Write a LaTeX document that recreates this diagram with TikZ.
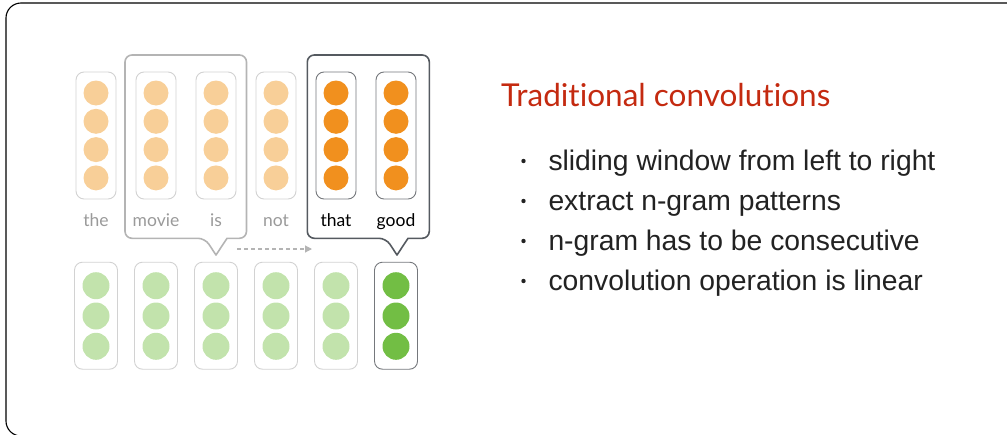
\documentclass[tikz,border=0pt]{standalone}
\usepackage{fontspec}
\setmainfont{Liberation Sans}
\newfontfamily\humanist[Ligatures=NoCommon]{Lato}
\usetikzlibrary{arrows.meta}

\definecolor{peachlight}{HTML}{F8CF98}
\definecolor{peachdark}{HTML}{F1901E}
\definecolor{leaflight}{HTML}{C2E3AC}
\definecolor{leafdark}{HTML}{72BE44}
\definecolor{boxlight}{HTML}{D2D2D2}
\definecolor{boxdark}{HTML}{75787C}
\definecolor{winlight}{HTML}{B4B4B4}
\definecolor{windark}{HTML}{555A60}
\definecolor{titlered}{HTML}{C42A10}
\definecolor{labelgray}{HTML}{9A9A9A}
\definecolor{bodytext}{HTML}{222222}

\tikzset{
  frame/.style={draw=black, line width=1.1pt, rounded corners=15pt},
  vecbox/.style={draw=#1, line width=0.9pt, rectangle, rounded corners=8pt, inner sep=0pt},
  topbox/.style={vecbox=#1, minimum width=40pt, minimum height=127pt},
  lowbox/.style={vecbox=#1, minimum width=43pt, minimum height=107pt},
  topdot/.style={circle, inner sep=0pt, minimum size=25pt, fill=#1},
  lowdot/.style={circle, inner sep=0pt, minimum size=27pt, fill=#1},
  wordlabel/.style={anchor=base, inner sep=0pt, font=\humanist\fontsize{17.5}{20}\selectfont, text=#1},
  window/.style={draw=#1, line width=1.6pt, line join=round},
  slide/.style={draw=winlight, line width=1.1pt, dash pattern=on 4pt off 3pt,
    -{Triangle[length=7pt,width=7pt,fill=winlight]}},
  bullettext/.style={anchor=base west, inner sep=0pt, text=bodytext,
    font=\fontsize{28.3}{32}\selectfont},
  bulletdot/.style={circle, inner sep=0pt, minimum size=4.4pt, fill=bodytext},
}

\begin{document}
\begin{tikzpicture}[x=1pt, y=-1pt]
\useasboundingbox (0,0) rectangle (1007,434);

% slide frame, partly outside the page
\begin{scope}
  \clip (0,0) rectangle (1007,434);
  \draw[frame] (6,3) rectangle (1040,436);
\end{scope}

% sliding windows with pointers
\coordinate (wa-tl) at (125,55);
\coordinate (wa-br) at (246.5,238.3);
\coordinate (wa-tip) at (216,255);
\draw[window=winlight]
  ([xshift=11pt]wa-tip |- wa-br) [rounded corners=7pt] -- (wa-br)
  -- (wa-br |- wa-tl) -- (wa-tl) -- (wa-tl |- wa-br)
  -- ([xshift=-11pt]wa-tip |- wa-br) [sharp corners] -- (wa-tip) -- cycle;

\coordinate (wb-tl) at (307.3,55);
\coordinate (wb-br) at (429.3,238.3);
\coordinate (wb-tip) at (397,255);
\draw[window=windark]
  ([xshift=11pt]wb-tip |- wb-br) [rounded corners=7pt] -- (wb-br)
  -- (wb-br |- wb-tl) -- (wb-tl) -- (wb-tl |- wb-br)
  -- ([xshift=-11pt]wb-tip |- wb-br) [sharp corners] -- (wb-tip) -- cycle;

% word vectors
\foreach \i/\w/\bc/\dc/\lc in {0/the/boxlight/peachlight/labelgray,
                              1/movie/boxlight/peachlight/labelgray,
                              2/is/boxlight/peachlight/labelgray,
                              3/not/boxlight/peachlight/labelgray,
                              4/that/boxdark/peachdark/black,
                              5/good/boxdark/peachdark/black}{
  \node[topbox=\bc] (t\i) at (96+60*\i, 135.5) {};
  \foreach \j/\y in {1/93, 2/121.3, 3/149.6, 4/177.9}{
    \node[topdot=\dc] (t\i-\j) at (96+60*\i, \y) {};
  }
  \node[wordlabel=\lc] (w\i) at (96+60*\i, 226.5) {\w};
}

% feature vectors after convolution
\foreach \i/\bc/\dc in {0/boxlight/leaflight, 1/boxlight/leaflight,
                       2/boxlight/leaflight, 3/boxlight/leaflight,
                       4/boxlight/leaflight, 5/boxdark/leafdark}{
  \node[lowbox=\bc] (b\i) at (96+60*\i, 315.7) {};
  \foreach \j/\y in {1/285.7, 2/316, 3/346.3}{
    \node[lowdot=\dc] (b\i-\j) at (96+60*\i, \y) {};
  }
}

% direction of the sliding window
\coordinate (slide-from) at (237,249);
\coordinate (slide-to) at (312,249);
\draw[slide] (slide-from) -- (slide-to);

% heading and bullet list
\node[anchor=base west, inner sep=0pt, text=titlered,
      font=\humanist\fontsize{31.5}{36}\selectfont] (title) at (501,106.7)
      {Traditional convolutions};
\foreach \k/\t in {0/sliding window from left to right,
                   1/extract n-gram patterns,
                   2/n-gram has to be consecutive,
                   3/convolution operation is linear}{
  \node[bulletdot] (d\k) at (523.5, 161+40*\k) {};
  \node[bullettext] (p\k) at (548.3, 170+40*\k) {\t};
}
\end{tikzpicture}
\end{document}
